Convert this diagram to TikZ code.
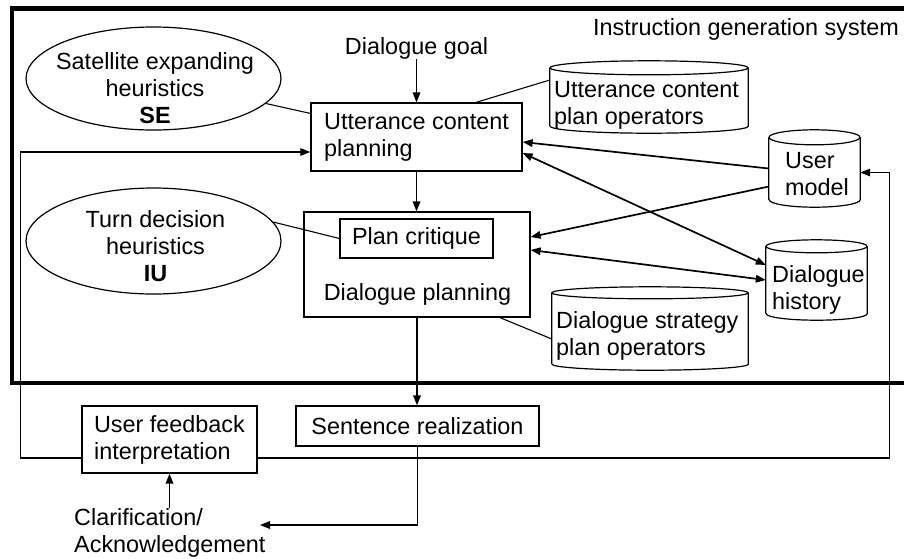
\documentclass[tikz,border=0pt]{standalone}
\usepackage{fontspec}
\setmainfont{Liberation Sans}
\usetikzlibrary{arrows.meta,shapes.geometric,calc}

% cylinder (data store) drawn around an empty body node: name, x radius, y radius
\newcommand{\drawdb}[3]{%
  \draw[dbline] (#1.south west) -- (#1.north west) (#1.north east) -- (#1.south east)
    arc[start angle=0, end angle=-180, x radius=#2, y radius=#3];
  \draw[dbline] (#1.north) ellipse [x radius=#2, y radius=#3];
}

\begin{document}
\begin{tikzpicture}[x=1pt,y=-1pt,
  every node/.style={font=\fontsize{23.4}{27}\selectfont, inner sep=0pt},
  box/.style={draw, line width=1.2pt, rectangle, align=left},
  oval/.style={draw, line width=1.2pt, ellipse},
  dbbody/.style={rectangle, draw=none},
  dbline/.style={line width=1.2pt},
  lbl/.style={align=left},
  link/.style={line width=1.1pt},
  tip/.style={-{Triangle[length=10pt,width=7.5pt]}},
  arr/.style={line width=1.7pt, tip},
  darr/.style={line width=1.7pt, {Triangle[length=10pt,width=7.5pt]}-{Triangle[length=10pt,width=7.5pt]}},
  feed/.style={line width=1.3pt, tip},
  frame/.style={line width=4.3pt, line join=miter},
]
\useasboundingbox (0,0) rectangle (904,558);

% system boundary
\draw[frame] (912,8.5) -- (12,8.5) -- (12,383) -- (912,383);
\node[anchor=base west] (title) at (593,35) {Instruction generation system};

% planning components
\node[anchor=base] (goal) at (416.5,54) {Dialogue goal};
\node[box, minimum width=211pt, minimum height=68pt] (ucp) at (416.5,137) {Utterance content\\planning};
\node[box, minimum width=226pt, minimum height=105pt] (dp) at (417,264.5) {};
\node[box, minimum width=153pt, minimum height=39pt, align=center] (pc) at (416.5,238.5) {Plan critique};
\node[anchor=base] (dplabel) at (417.5,300) {Dialogue planning};

% heuristics
\node[oval, minimum width=255pt, minimum height=103pt] (se) at (153.5,78.5) {};
\node[align=center] (setext) at (155,88) {Satellite expanding\\heuristics\\\textbf{SE}};
\node[oval, minimum width=255pt, minimum height=106pt] (td) at (153.5,241) {};
\node[align=center] (tdtext) at (155.5,246.5) {Turn decision\\heuristics\\\textbf{IU}};

% data stores
\node[dbbody, minimum width=198pt, minimum height=58pt] (uco) at (649,97) {};
\drawdb{uco}{99pt}{7pt}
\node[lbl, anchor=west] (ucotext) at (554,105) {Utterance content\\plan operators};

\node[dbbody, minimum width=91pt, minimum height=62pt] (um) at (814.5,168.5) {};
\drawdb{um}{45.5pt}{7.5pt}
\node[lbl, anchor=west] (umtext) at (785,174) {User\\model};

\node[dbbody, minimum width=101pt, minimum height=67pt] (dh) at (816.5,280) {};
\drawdb{dh}{50.5pt}{6.5pt}
\node[lbl, anchor=west] (dhtext) at (772,290) {Dialogue\\history};

\node[dbbody, minimum width=196pt, minimum height=71pt] (dso) at (650,328.5) {};
\drawdb{dso}{98pt}{6pt}
\node[lbl, anchor=west] (dsotext) at (556,335.5) {Dialogue strategy\\plan operators};

% components outside the system
\node[box, minimum width=243pt, minimum height=40pt] (sr) at (417.5,426) {Sentence realization};
\node[box, minimum width=175pt, minimum height=67pt] (ufi) at (169.5,439.5) {User feedback\\interpretation};
\node[lbl, anchor=west] (clar) at (74,533) {Clarification/\\Acknowledgement};
\coordinate (ackin) at (260,525);

% main flow
\draw[arr] (goal) -- (ucp);
\draw[arr] (ucp.south) -- (ucp.south |- dp.north);
\draw[arr] (dp.south) -- (dp.south |- sr.north);
\draw[arr] (sr.south) |- (ackin);
\draw[arr] (ufi.south |- clar.north) -- (ufi.south);

% associations
\draw[link] (se) -- (ucp);
\draw[link] (td.9) -- (pc.west);
\draw[link] ([xshift=59.5pt]ucp.north) -- ([yshift=17pt]uco.west);
\draw[link] ([xshift=83pt]dp.south) -- ([yshift=-10.5pt]dso.west);

% store access
\draw[arr] (um.west) -- ([yshift=-5pt]ucp.east);
\draw[darr] ([yshift=-16pt]ucp.east) -- ([yshift=15pt]dh.west);
\draw[arr] ([yshift=-18pt]um.west) -- ([yshift=27.5pt]dp.east);
\draw[darr] ([yshift=14.5pt]dp.east) -- (dh.west);

% user feedback loops
\draw[feed] ([yshift=-18.5pt]ufi.west) -- ++(-61,0) |- ([yshift=-15pt]ucp.west);
\draw[feed] ([yshift=-18.5pt]ufi.east) -- ++(632,0) |- ([yshift=-4pt]um.east);
\end{tikzpicture}
\end{document}
